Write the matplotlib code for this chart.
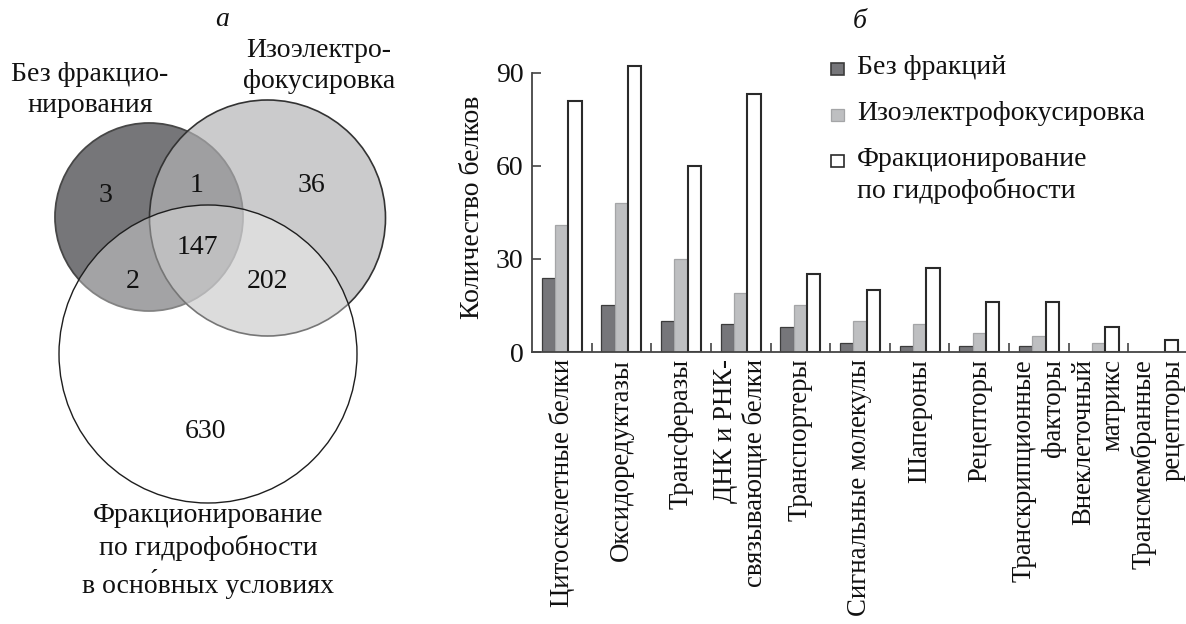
import matplotlib
matplotlib.use("Agg")
import matplotlib.pyplot as plt
import numpy as np
from matplotlib.patches import Circle, Rectangle

plt.rcParams["font.family"] = ["Liberation Serif", "DejaVu Serif"]

W, H = 1186, 624
FS = 20
INK = "#111111"

# --- bar chart data ---
categories = [
    "Цитоскелетные белки",
    "Оксидоредуктазы",
    "Трансферазы",
    "ДНК и РНК-\nсвязывающие белки",
    "Транспортеры",
    "Сигнальные молекулы",
    "Шапероны",
    "Рецепторы",
    "Транскрипционные\nфакторы",
    "Внеклеточный\nматрикс",
    "Трансмембранные\nрецепторы",
]
series_names = ["Без фракций", "Изоэлектрофокусировка", "Фракционирование\nпо гидрофобности"]
no_fraction = [24, 15, 10, 9, 8, 3, 2, 2, 2, 0, 0]
isoelectric = [41, 48, 30, 19, 15, 10, 9, 6, 5, 3, 0]
hydrophobic = [81, 92, 60, 83, 25, 20, 27, 16, 16, 8, 4]
y_ticks = [0, 30, 60, 90]

# --- venn data ---
venn_sets = [
    "Без фракцио-\nнирования",
    "Изоэлектро-\nфокусировка",
    "Фракционирование\nпо гидрофобности\nв осно\u0301вных условиях",
]
venn_regions = ["A", "AB", "B", "ABC", "AC", "BC", "C"]
venn_counts = [3, 1, 36, 147, 2, 202, 630]

# styles
fills = ["#76767a", "#bebfc1", "white"]
edges = ["#3c3c3c", "#a4a5a7", "#2a2a2a"]
edge_w = [0.9, 0.9, 1.5]


def px(x, y):
    """pixel position (from top-left) -> figure fraction"""
    return x / W, 1 - y / H


fig = plt.figure(figsize=(W / 100, H / 100), dpi=100)

# ================= a: venn =================
av = fig.add_axes([0, 0, 420 / W, 1])
av.set_xlim(0, 420)
av.set_ylim(H, 0)
av.axis("off")

# circle layout in pixel space
circ_layout = [((149, 217), 94), ((267.5, 218), 118), ((208, 354), 149)]
av.add_patch(Circle(*circ_layout[0], facecolor="#767679", edgecolor="#474747", lw=1.3, zorder=1))
av.add_patch(Circle(*circ_layout[1], facecolor="#b3b3b5", alpha=0.68, edgecolor="none", zorder=2))
av.add_patch(Circle(*circ_layout[1], facecolor="none", edgecolor="#333333", lw=1.2, zorder=2))
av.add_patch(Circle(*circ_layout[2], facecolor="white", alpha=0.33, edgecolor="none", zorder=3))
av.add_patch(Circle(*circ_layout[2], facecolor="none", edgecolor="#1e1e1e", lw=1.0, zorder=3))

count_pos = {
    "A": (105, 196), "AB": (197, 185), "B": (311, 185), "ABC": (197, 247),
    "AC": (133, 281), "BC": (267, 281), "C": (206, 431),
}
for reg, n in zip(venn_regions, venn_counts):
    x, y = count_pos[reg]
    av.text(x, y, str(n), ha="center", va="center", fontsize=FS, color=INK, zorder=5)

set_label_pos = [(90, 90), (319, 66), (208, 551)]
for lab, (x, y) in zip(venn_sets, set_label_pos):
    av.text(x, y, lab, ha="center", va="center", fontsize=FS, linespacing=1.33, color=INK)

fig.text(*px(222, 19), "а", fontsize=FS, style="italic", ha="center", va="center", color=INK)

# ================= б: bars =================
y0_px, y90_px = 352, 72.7
ppu = (y0_px - y90_px) / 90
ytop = 93
x_left, x_right = 532, 1188
ax = fig.add_axes([x_left / W, 1 - y0_px / H, (x_right - x_left) / W, ytop * ppu / H])

x = np.arange(len(categories))
bw = 0.224
for k, vals in enumerate([no_fraction, isoelectric, hydrophobic]):
    ax.bar(x + (k - 1) * bw, vals, width=bw, color=fills[k], edgecolor=edges[k],
           linewidth=edge_w[k], zorder=2)

ax.set_xlim(-0.5, len(categories) - 0.5)
ax.set_ylim(0, ytop)
for s in ["top", "right"]:
    ax.spines[s].set_visible(False)
for s in ["left", "bottom"]:
    ax.spines[s].set_color("#444444")
    ax.spines[s].set_linewidth(1.3)
ax.spines["left"].set_bounds(0, 90)

ax.set_yticks(y_ticks)
ax.tick_params(axis="y", direction="in", length=6.5, width=1.2, color="#444444",
               labelsize=FS, pad=6, labelcolor=INK)
ax.set_xticks(x)
ax.set_xticklabels(categories, rotation=90, va="top", ha="center", multialignment="right",
                   fontsize=19.3, color=INK)
ax.tick_params(axis="x", which="major", length=0, pad=5)
ax.set_xticks(np.arange(0.5, len(categories) - 1, 1), minor=True)
ax.tick_params(axis="x", which="minor", direction="in", length=6.5, width=1.2, color="#444444")

ax.set_ylabel("Количество белков", fontsize=FS, color=INK, labelpad=8)

fig.text(*px(860, 21), "б", fontsize=FS, style="italic", ha="center", va="center", color=INK)

# legend, squares aligned with the first line of each entry
leg_rows = [69, 115, 161]
for k, (name, yc) in enumerate(zip(series_names, leg_rows)):
    fx, fy = px(831, yc + 6.3)
    fig.patches.append(Rectangle((fx, fy), 12.6 / W, 12.6 / H, transform=fig.transFigure,
                                 facecolor=fills[k], edgecolor=edges[k] if k != 1 else "#a4a5a7",
                                 linewidth=1.2 if k != 1 else 0.9, figure=fig))
    tx, ty = px(857, yc - 14)
    fig.text(tx, ty, name, fontsize=FS, ha="left", va="top", linespacing=1.3, color=INK)

fig.savefig("out.png", dpi=100)
